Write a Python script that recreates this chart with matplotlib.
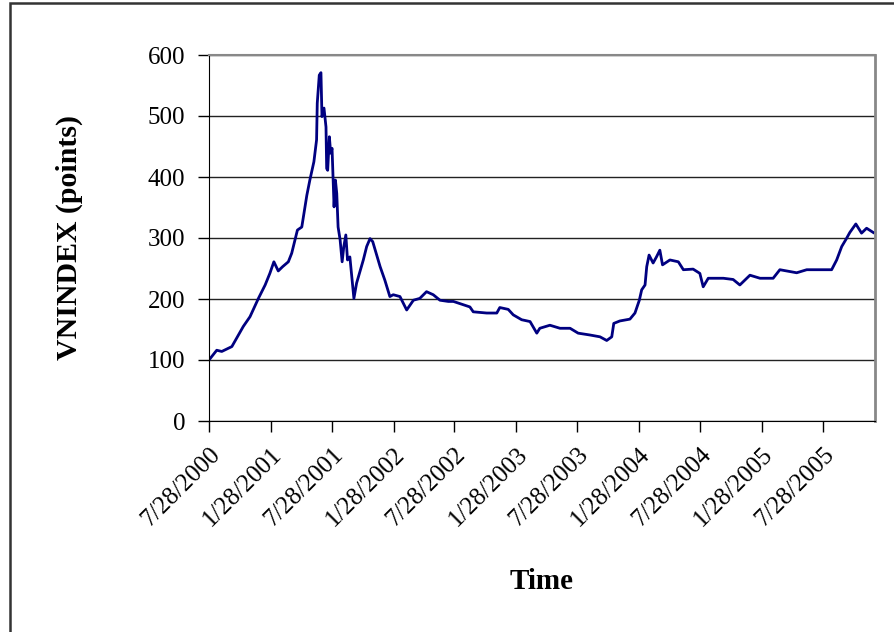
import matplotlib
matplotlib.use("Agg")
import matplotlib.pyplot as plt
import matplotlib.transforms as mtransforms
from matplotlib.patches import Rectangle
import pandas as pnd

plt.rcParams['font.family'] = ['Liberation Serif', 'DejaVu Serif']

# VNINDEX readings: days after 7/28/2000 and index value (points)
start_date = pnd.Timestamp('2000-07-28')
day_offset = [0, 23, 38, 68, 102, 122, 147, 167, 181, 193, 206, 219, 236, 246,
              263, 276, 291, 300, 312, 320, 322, 328, 333, 336, 342, 348, 350,
              353, 358, 362, 366, 372, 376, 380, 384, 390, 396, 401, 407, 412,
              419, 431, 439, 459, 469, 479, 487, 509, 523, 538, 548, 568, 588,
              608, 627, 647, 667, 687, 712, 727, 776, 786, 826, 856, 865, 890,
              905, 930, 955, 975, 984, 1014, 1044, 1074, 1098, 1133, 1163, 1183,
              1198, 1204, 1222, 1252, 1267, 1280, 1287, 1297, 1302, 1309, 1321,
              1331, 1341, 1349, 1371, 1396, 1411, 1440, 1460, 1470, 1485, 1530,
              1559, 1579, 1609, 1639, 1678, 1698, 1748, 1778, 1817, 1852, 1867,
              1882, 1896, 1906, 1924, 1941, 1956, 1976]
vnindex = [100, 116, 114, 122, 155, 171, 201, 223, 242, 261, 246, 253, 261, 275,
           313, 318, 370, 395, 425, 461, 521, 567, 571, 499, 513, 482, 414,
           411, 466, 439, 447, 351, 395, 373, 318, 297, 261, 286, 305, 264,
           269, 201, 226, 264, 286, 299, 294, 253, 231, 204, 207, 204, 182,
           198, 201, 212, 207, 198, 196, 196, 187, 179, 177, 177, 186, 183,
           174, 166, 163, 144, 152, 157, 152, 152, 144, 141, 138, 132,
           138, 160, 164, 167, 177, 198, 215, 223, 253, 272, 259,
           269, 280, 256, 264, 261, 248, 249, 242, 220, 234, 234,
           232, 223, 239, 234, 234, 248, 243, 248, 248, 248, 264,
           286, 299, 309, 323, 308, 316, 309]

tick_dates = ['2000-07-28', '2001-01-28', '2001-07-28', '2002-01-28', '2002-07-28',
              '2003-01-28', '2003-07-28', '2004-01-28', '2004-07-28', '2005-01-28',
              '2005-07-28']
tick_labels = ['7/28/2000', '1/28/2001', '7/28/2001', '1/28/2002', '7/28/2002',
               '1/28/2003', '7/28/2003', '1/28/2004', '7/28/2004', '1/28/2005',
               '7/28/2005']

dates = start_date + pnd.to_timedelta(day_offset, unit='D')

fig = plt.figure(figsize=(8.95, 6.32), dpi=100)
ax = fig.add_axes([209/895, 1 - 421/632, (875-209)/895, (421-55)/632])

# outer chart frame (runs off the right and bottom edges)
fig.patches.append(Rectangle((10/895, -0.1), 1.2, 0.1 + 1 - 3/632,
                             transform=fig.transFigure, fill=False,
                             edgecolor='#333333', linewidth=1.8))

ax.plot(dates, vnindex, color='#000080', linewidth=2)

ax.set_ylim(0, 600)
ax.set_yticks(range(0, 601, 100))
ax.set_xlim(start_date, start_date + pnd.Timedelta(days=1981))
ax.set_xticks(pnd.to_datetime(tick_dates))
ax.set_xticklabels(tick_labels, rotation=45, ha='right', va='top',
                   rotation_mode='anchor', fontsize=18)
shift = mtransforms.ScaledTranslation(-14/72, 0, fig.dpi_scale_trans)
for lbl in ax.get_xticklabels():
    lbl.set_transform(lbl.get_transform() + shift)

ax.yaxis.grid(True, color='#222222', linewidth=1)
ax.set_axisbelow(True)
for side in ['top', 'right']:
    ax.spines[side].set_color('#888888')
ax.spines['right'].set_linewidth(2)
ax.spines['top'].set_linewidth(1.5)
ax.spines['left'].set_color('black')
ax.spines['bottom'].set_color('black')

ax.tick_params(axis='both', direction='out', length=8, width=1,
               colors='black')
ax.tick_params(axis='x', pad=8)
ax.tick_params(axis='y', pad=9, labelsize=18)

ax.set_ylabel('VNINDEX (points)', fontsize=21.5, fontweight='bold', labelpad=47)
ax.set_xlabel('Time', fontsize=21, fontweight='bold', labelpad=27)

fig.savefig('out.png', dpi=100)
